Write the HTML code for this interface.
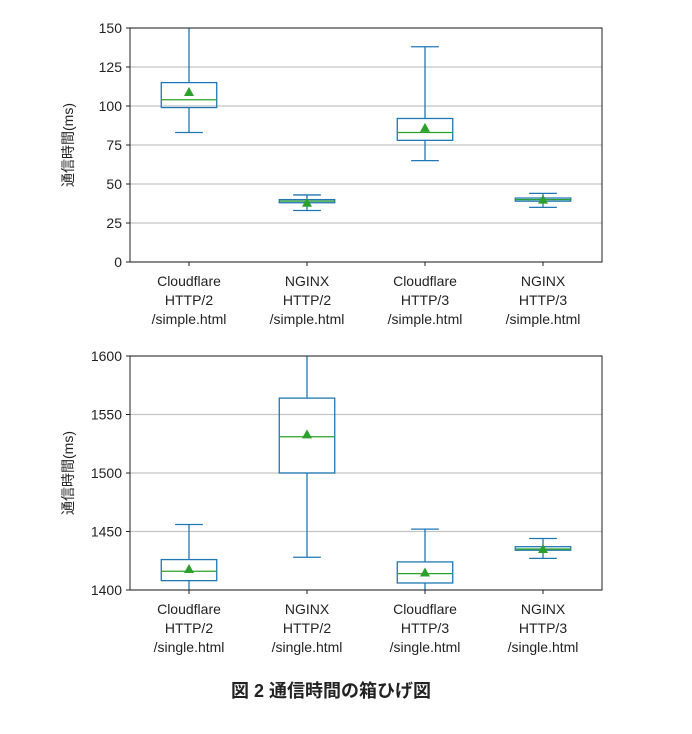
<!DOCTYPE html>
<html><head><meta charset="utf-8"><style>
body{margin:0;background:#fff;}
svg text{font-family:"Liberation Sans","Noto Sans CJK JP",sans-serif;fill:#222;}
</style></head><body>
<svg id="svg" width="692" height="729" xmlns="http://www.w3.org/2000/svg">
<text x="331" y="697" text-anchor="middle" font-size="18" font-weight="bold">図 2 通信時間の箱ひげ図</text>
</svg>
<script>
const categories1=["Cloudflare\nHTTP/2\n/simple.html","NGINX\nHTTP/2\n/simple.html","Cloudflare\nHTTP/3\n/simple.html","NGINX\nHTTP/3\n/simple.html"];
const whisLo1=[83,33,65,35];
const q1_1=[99,38,78,39];
const med1=[104,39,83,40];
const q3_1=[115,40,92,41];
const whisHi1=[160,43,138,44];
const mean1=[109,38,86,40];
const ticks1=[0,25,50,75,100,125,150];

const categories2=["Cloudflare\nHTTP/2\n/single.html","NGINX\nHTTP/2\n/single.html","Cloudflare\nHTTP/3\n/single.html","NGINX\nHTTP/3\n/single.html"];
const whisLo2=[1390,1428,1390,1427];
const q1_2=[1408,1500,1406,1434];
const med2=[1416,1531,1414,1435];
const q3_2=[1426,1564,1424,1437];
const whisHi2=[1456,1620,1452,1444];
const mean2=[1418,1533,1415,1435];
const ticks2=[1400,1450,1500,1550,1600];

const NS="http://www.w3.org/2000/svg";
const svg=document.getElementById('svg');
function mk(tag,attrs,parent){const e=document.createElementNS(NS,tag);for(const k in attrs)e.setAttribute(k,attrs[k]);(parent||svg).appendChild(e);return e;}

function chart(id,top,bottom,ymin,ymax,ticks,cats,lo,q1,med,q3,hi,mean){
  const L=130,R=602;
  const y=v=>bottom-(v-ymin)/(ymax-ymin)*(bottom-top);
  const step=(R-L)/cats.length;
  const x=i=>L+step*(i+0.5);
  const g=mk('g',{});
  
  
  const cp=mk('clipPath',{id:id+'-clip'},g);mk('rect',{x:L,y:top,width:R-L,height:bottom-top},cp);
  ticks.forEach(t=>{
    const gl=mk('line',{x1:L,x2:R,y1:y(t),y2:y(t),stroke:'#c4c4c4','stroke-width':1.2},g);
    
    
    mk('line',{x1:L-4,x2:L,y1:y(t),y2:y(t),stroke:'#222'},g);
    const tx=mk('text',{x:L-8,y:y(t)+5,'text-anchor':'end','font-size':14},g);tx.textContent=t;
    
    
  });
  const pg=mk('g',{'clip-path':'url(#'+id+'-clip)'},g);
  const bw=step*0.47;
  cats.forEach((c,i)=>{
    const cx=x(i);const b=mk('g',{},pg);
    
    
    const st={stroke:'#1f77b4','stroke-width':1.3,fill:'none'};
    mk('line',Object.assign({x1:cx,x2:cx,y1:y(q3[i]),y2:y(hi[i])},st),b);
    mk('line',Object.assign({x1:cx,x2:cx,y1:y(q1[i]),y2:y(lo[i])},st),b);
    mk('line',Object.assign({x1:cx-bw/4,x2:cx+bw/4,y1:y(hi[i]),y2:y(hi[i])},st),b);
    mk('line',Object.assign({x1:cx-bw/4,x2:cx+bw/4,y1:y(lo[i]),y2:y(lo[i])},st),b);
    mk('rect',Object.assign({x:cx-bw/2,y:y(q3[i]),width:bw,height:y(q1[i])-y(q3[i])},st),b);
    mk('line',{x1:cx-bw/2,x2:cx+bw/2,y1:y(med[i]),y2:y(med[i]),stroke:'#2ca02c','stroke-width':1.3},b);
    const my=y(mean[i]);
    const m=mk('polygon',{points:`${cx},${my-5} ${cx-5},${my+4} ${cx+5},${my+4}`,fill:'#2ca02c'},b);
    
    
  });
  mk('rect',{x:L,y:top,width:R-L,height:bottom-top,fill:'none',stroke:'#222','stroke-width':1},g);
  cats.forEach((c,i)=>{
    mk('line',{x1:x(i),x2:x(i),y1:bottom,y2:bottom+4,stroke:'#222'},g);
    c.split('\n').forEach((s,k)=>{
      const t=mk('text',{x:x(i),y:bottom+24+k*19,'text-anchor':'middle','font-size':14},g);t.textContent=s;
      
      
    });
  });
  const yt=mk('text',{x:0,y:0,'text-anchor':'middle','font-size':14,transform:`translate(${L-57},${(top+bottom)/2}) rotate(-90)`},g);
  yt.textContent='通信時間(ms)';
  
  
}
chart('chart-simple',28,262,0,150,ticks1,categories1,whisLo1,q1_1,med1,q3_1,whisHi1,mean1);
chart('chart-single',356,590,1400,1600,ticks2,categories2,whisLo2,q1_2,med2,q3_2,whisHi2,mean2);
</script>
</body></html>
